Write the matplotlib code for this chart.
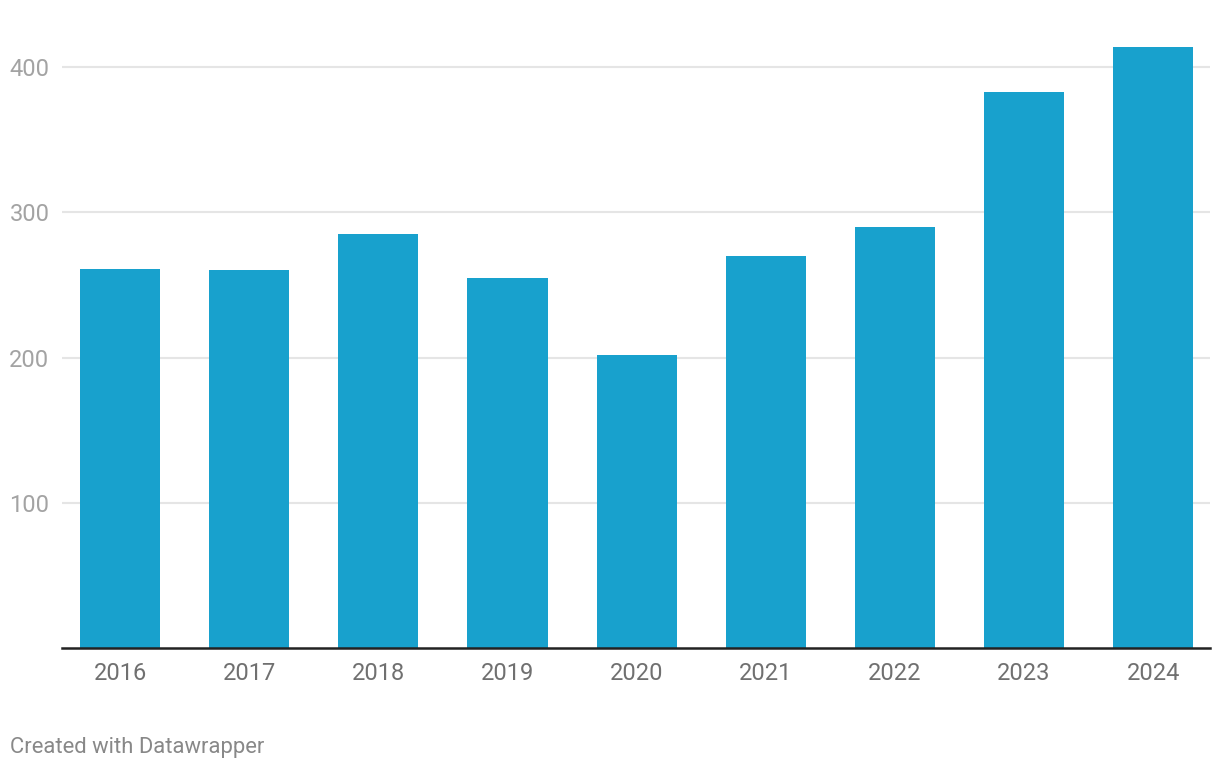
import matplotlib
matplotlib.use("Agg")
import matplotlib.pyplot as plt

years = ["2016", "2017", "2018", "2019", "2020", "2021", "2022", "2023", "2024"]
values = [261, 260, 285, 255, 202, 270, 290, 383, 414]
yticks = [100, 200, 300, 400]

plt.rcParams['font.family'] = ['Roboto', 'DejaVu Sans']

W, H = 1220, 770
fig = plt.figure(figsize=(W / 100, H / 100), dpi=100)
left, right, top, bottom = 62, 1210, 38, 648
ax = fig.add_axes([left / W, (H - bottom) / H, (right - left) / W, (bottom - top) / H])

x = list(range(len(years)))
ax.bar(x, values, width=0.62, color="#18a1cd", zorder=2)

ax.set_xlim(-0.45, 8.44)
ax.set_ylim(0, 420)
ax.set_yticks(yticks)
ax.set_yticklabels([str(t) for t in yticks])
ax.set_xticks(x)
ax.set_xticklabels(years)

ax.grid(axis="y", color="#e5e5e5", linewidth=1.5, zorder=0)
ax.set_axisbelow(True)
for s in ["top", "right", "left"]:
    ax.spines[s].set_visible(False)
ax.spines["bottom"].set_color("#222222")
ax.spines["bottom"].set_linewidth(1.8)
ax.spines["bottom"].set_zorder(3)

ax.tick_params(axis="y", length=0, pad=9, labelsize=17, labelcolor="#a3a3a3")
ax.tick_params(axis="x", length=0, pad=10, labelsize=17, labelcolor="#707070")

fig.text(10 / W, 1 - 747 / H, "Created with Datawrapper", fontsize=15.8,
         color="#888888", ha="left", va="center")

fig.savefig("out.png", dpi=100)
